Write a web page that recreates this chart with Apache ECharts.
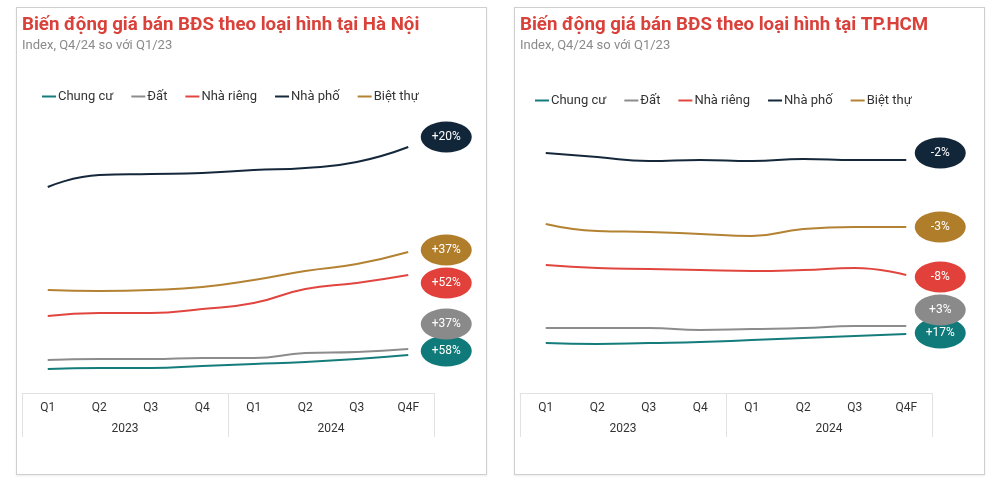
<!DOCTYPE html>
<html>
<head>
<meta charset="utf-8">
<script src="https://cdn.jsdelivr.net/npm/echarts@6/dist/echarts.min.js"></script>
<style>
    html, body { margin: 0; padding: 0; background: #fff; }
    .panel {
        position: absolute;
        top: 7px;
        width: 469px;
        height: 466px;
        border: 1px solid #cfcfcf;
        box-shadow: 0 1px 2px rgba(0, 0, 0, 0.08);
    }
    #hn { left: 16px; }
    #hcm { left: 514px; }
</style>
</head>
<body>
<div class="panel" id="hn"></div>
<div class="panel" id="hcm"></div>
<script>
'use strict';
// trục hoành: quý và năm
var quarters = ['Q1', 'Q2', 'Q3', 'Q4', 'Q1', 'Q2', 'Q3', 'Q4F'];
var years = ['2023', '2024'];
var seriesNames = ['Chung cư', 'Đất', 'Nhà riêng', 'Nhà phố', 'Biệt thự'];

// Hà Nội
var hnChungCu = [24, 25, 25, 27, 29, 31, 34, 38];
var hnDat = [33, 34, 34, 35, 35, 40, 41, 44];
var hnNhaRieng = [77, 80, 80, 84, 90, 104, 110, 118];
var hnNhaPho = [206, 218, 219, 220, 223, 225, 231, 246];
var hnBietThu = [103, 102, 103, 106, 113, 122, 129, 141];
var hnChange = ['+58%', '+37%', '+52%', '+20%', '+37%'];

// TP.HCM
var hcmChungCu = [50, 49, 50, 51, 53, 55, 57, 59];
var hcmDat = [65, 65, 65, 63, 64, 65, 67, 67];
var hcmNhaRieng = [128, 125, 124, 123, 122, 123, 125, 118];
var hcmNhaPho = [240, 236, 232, 233, 232, 234, 233, 233];
var hcmBietThu = [169, 162, 161, 159, 157, 164, 166, 166];
var hcmChange = ['+17%', '+3%', '-8%', '-2%', '-3%'];

var lineColors = ['#157c7c', '#8c8c8c', '#e0463f', '#15283b', '#b38232'];
var badgeColors = ['#0f7a79', '#8a8a8a', '#e2403a', '#12263a', '#b07d2b'];

function buildOption(title, legendLeft, legendTop, values, changes, badgeDy, badgeDx) {
    var series = [];
    for (var i = 0; i < seriesNames.length; i++) {
        var data = values[i];
        series.push({
            name: seriesNames[i],
            type: 'line',
            smooth: true,
            showSymbol: false,
            symbol: 'none',
            z: i === 0 ? 5 : 2,
            data: data,
            lineStyle: { width: 2, color: lineColors[i] },
            itemStyle: { color: lineColors[i] },
            // nhãn % thay đổi ở cuối đường
            markPoint: {
                symbol: 'circle',
                symbolSize: [51, 31],
                symbolOffset: [badgeDx, badgeDy[i]],
                itemStyle: { color: badgeColors[i] },
                label: {
                    show: true,
                    color: '#fff',
                    fontSize: 12,
                    fontFamily: 'Roboto',
                    formatter: changes[i]
                },
                data: [{ coord: [data.length - 1, data[data.length - 1]] }]
            }
        });
    }
    return {
        animation: false,
        textStyle: { fontFamily: 'Roboto' },
        title: {
            text: title,
            subtext: 'Index, Q4/24 so với Q1/23',
            left: 0,
            top: 3,
            itemGap: 4,
            textStyle: { color: '#d9413a', fontSize: 18.7, fontWeight: 'bold', fontFamily: 'Roboto' },
            subtextStyle: { color: '#8a8a8a', fontSize: 13, fontFamily: 'Roboto' }
        },
        legend: {
            left: legendLeft,
            top: legendTop,
            icon: 'rect',
            itemWidth: 14,
            itemHeight: 2,
            itemGap: 18,
            data: seriesNames,
            textStyle: { color: '#333', fontSize: 13, padding: [0, 0, 0, -3] }
        },
        grid: { left: 5, right: 52, top: 85, bottom: 81 },
        xAxis: [{
            type: 'category',
            data: quarters,
            boundaryGap: true,
            axisLine: { lineStyle: { color: '#e2e2e2' } },
            axisTick: { show: false },
            axisLabel: { color: '#333', fontSize: 12, margin: 9 }
        }, {
            type: 'category',
            data: years,
            position: 'bottom',
            boundaryGap: true,
            axisLine: { show: false },
            axisTick: { show: true, length: 44, interval: 0, lineStyle: { color: '#e2e2e2' } },
            axisLabel: { color: '#333', fontSize: 12, margin: 30 }
        }],
        yAxis: {
            type: 'value',
            show: false,
            min: 0,
            max: 300,
            splitLine: { show: false }
        },
        series: series
    };
}

var hnChart = echarts.init(document.getElementById('hn'));
hnChart.setOption(buildOption(
    'Biến động giá bán BĐS theo loại hình tại Hà Nội', 20, 77,
    [hnChungCu, hnDat, hnNhaRieng, hnNhaPho, hnBietThu], hnChange,
    [-4, -25, 8, -10, -2], 38
));

var hcmChart = echarts.init(document.getElementById('hcm'));
hcmChart.setOption(buildOption(
    'Biến động giá bán BĐS theo loại hình tại TP.HCM', 15, 81,
    [hcmChungCu, hcmDat, hcmNhaRieng, hcmNhaPho, hcmBietThu], hcmChange,
    [-1, -16, 2, -7, 0], 34
));
</script>
</body>
</html>
